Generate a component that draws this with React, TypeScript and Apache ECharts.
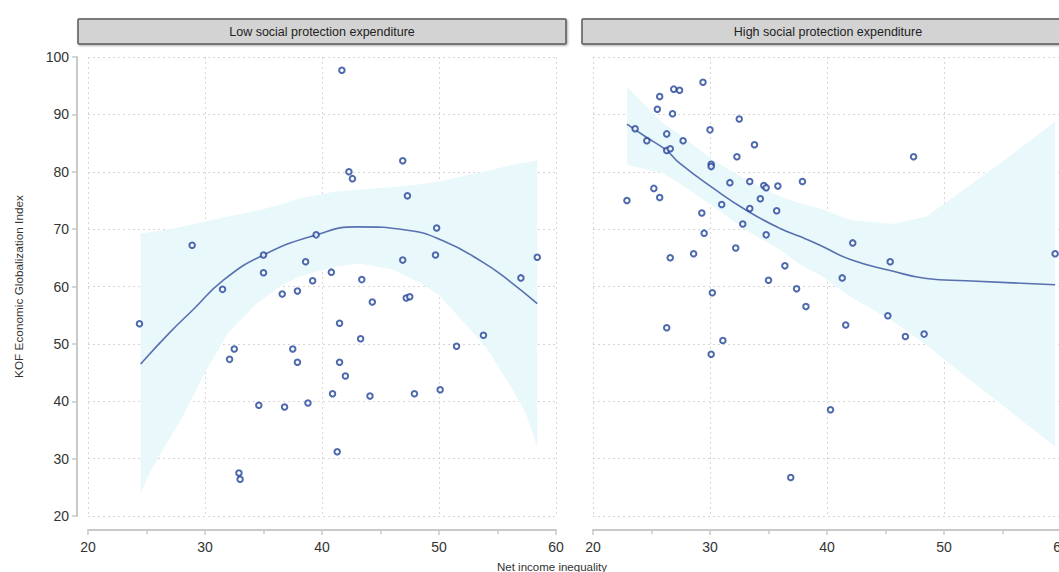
import React, { useEffect, useRef } from "react";
import * as echarts from "echarts";

// ---------- DATA ----------
const panelTitles = ["Low social protection expenditure", "High social protection expenditure"];
const xTitle = "Net income inequality";
const yTitle = "KOF Economic Globalization Index";

const lowPoints: [number, number][] = [
  [24.4, 53.5], [28.9, 67.2], [31.5, 59.5], [32.1, 47.3], [32.5, 49.1], [32.9, 27.5], [33.0, 26.4],
  [35.0, 65.5], [35.0, 62.4], [34.6, 39.3], [36.6, 58.7], [36.8, 39.0], [37.5, 49.1], [37.9, 59.2],
  [37.9, 46.8], [38.6, 64.3], [38.8, 39.7], [39.2, 61.0], [39.5, 69.0], [40.8, 62.5], [40.9, 41.3],
  [41.3, 31.2], [41.5, 53.6], [41.5, 46.8], [42.0, 44.4], [41.7, 97.7], [42.3, 80.0], [42.6, 78.8],
  [43.4, 61.2], [43.3, 50.9], [44.3, 57.3], [44.1, 40.9], [46.9, 81.9], [46.9, 64.6], [47.3, 75.8],
  [47.2, 58.0], [47.5, 58.2], [47.9, 41.3], [49.7, 65.5], [49.8, 70.2], [50.1, 42.0], [51.5, 49.6],
  [53.8, 51.5], [57.0, 61.5], [58.4, 65.1],
];

const highPoints: [number, number][] = [
  [22.9, 75.0], [23.6, 87.5], [24.6, 85.4], [25.2, 77.1], [25.5, 90.9], [25.7, 93.1], [25.7, 75.5],
  [26.3, 86.6], [26.3, 83.7], [26.6, 84.0], [26.8, 90.1], [26.9, 94.4], [27.4, 94.2], [26.6, 65.0],
  [26.3, 52.8], [27.7, 85.4], [28.6, 65.7], [29.3, 72.8], [29.4, 95.6], [29.5, 69.3], [30.0, 87.3],
  [30.1, 81.3], [30.1, 80.9], [30.2, 58.9], [30.1, 48.2], [31.0, 74.3], [31.1, 50.6], [31.7, 78.1],
  [32.2, 66.7], [32.3, 82.6], [32.5, 89.2], [32.8, 70.9], [33.4, 78.3], [33.4, 73.6], [33.8, 84.7],
  [34.3, 75.3], [34.6, 77.6], [34.8, 77.2], [34.8, 69.0], [35.0, 61.1], [35.7, 73.2], [35.8, 77.5],
  [36.4, 63.6], [36.9, 26.7], [37.4, 59.6], [37.9, 78.3], [38.2, 56.5], [40.3, 38.5], [41.3, 61.5],
  [41.6, 53.3], [42.2, 67.6], [45.2, 54.9], [45.4, 64.3], [46.7, 51.3], [47.4, 82.6], [48.3, 51.7],
  [59.5, 65.7],
];

// smoothed fits
const lowFitX = [24.5, 27, 29, 31.5, 35, 39.5, 43, 47.3, 50.3, 53.7, 56, 58.4];
const lowFitY = [46.5, 52, 56, 61, 65.5, 69, 70.4, 69.8, 68, 64.3, 61, 57];
const lowBandX = [24.5, 25.4, 26.4, 28, 30, 32, 34.4, 36.4, 38, 41, 43.2, 46, 48.4, 50, 52, 54, 56.3, 57.5, 58.4];
const lowBandLower = [24, 28, 31.5, 37, 45, 52, 57, 60, 61.7, 63.4, 64, 63, 60.6, 58.5, 54, 49.5, 42, 37.5, 32];
const lowBandUpper = [69.3, 69.5, 69.8, 70.4, 71.3, 72.2, 73.2, 74.2, 75.3, 76.5, 76.9, 77.3, 77.8, 78.3, 79.2, 80.1, 81.2, 81.6, 82];

const highFitX = [22.9, 24.5, 26.3, 27.4, 30.3, 33.1, 36.0, 37.7, 39.4, 42.0, 45.4, 48.5, 51.9, 59.5];
const highFitY = [88.3, 86.1, 83.7, 81.5, 77.1, 73.3, 70.1, 68.7, 67.2, 64.7, 62.8, 61.4, 61.0, 60.3];
const highBandX = [22.9, 26.0, 27.4, 30.3, 33.1, 36.0, 37.7, 39.4, 42.0, 45.6, 48.5, 50.5, 54.8, 59.5];
const highBandLower = [81.2, 79.7, 78.0, 73.9, 69.8, 66.4, 63.8, 62.0, 58.2, 54.0, 49.8, 46.5, 39.6, 32.1];
const highBandUpper = [94.8, 88.4, 86.5, 82.0, 78.6, 75.7, 74.5, 73.6, 71.6, 70.9, 72.2, 75.1, 81.5, 88.7];

const xTicks = { min: 20, max: 60, interval: 10 };
const yTicks = { min: 20, max: 100, interval: 10 };

// ---------- STYLE ----------
const POINT = "#22449a";
const FIT = "#5870b0";
const BAND = "#e9f8fa";
const AXIS = "#c9c9c9";
const GRIDLINE = "#d6d6d6";
const LABEL = "#333";
const FONT = "Liberation Sans";

function zip(xs: number[], ys: number[]) {
  return xs.map((x, i) => [x, ys[i]]);
}

export default function App() {
  const ref = useRef<HTMLDivElement>(null);
  useEffect(() => {
    if (!ref.current) return;
    const chart = echarts.init(ref.current, undefined, { renderer: "svg" });

    const grids = [
      { left: 88, width: 468, top: 57, bottom: 56 },
      { left: 593, width: 468, top: 57, bottom: 56 },
    ];

    const xAxes = [0, 1].map((i) => ({
      type: "value",
      gridIndex: i,
      min: xTicks.min,
      max: xTicks.max,
      interval: xTicks.interval,
      offset: 14,
      axisLine: { show: true, onZero: false, lineStyle: { color: AXIS, width: 2 } },
      axisTick: { show: true, length: 5, lineStyle: { color: AXIS, width: 1.5 } },
      minorTick: { show: true, splitNumber: 2, length: 4, lineStyle: { color: AXIS, width: 1.5 } },
      axisLabel: { color: LABEL, fontSize: 14, fontFamily: FONT, margin: 10 },
      splitLine: { show: true, lineStyle: { color: GRIDLINE, type: [2, 3], width: 1 } },
    }));

    const yAxes = [0, 1].map((i) => ({
      type: "value",
      gridIndex: i,
      min: yTicks.min,
      max: yTicks.max,
      interval: yTicks.interval,
      offset: 11,
      name: i === 0 ? yTitle : "",
      nameLocation: "middle",
      nameGap: 52,
      nameTextStyle: { color: LABEL, fontSize: 11.8, fontFamily: FONT },
      axisLine: { show: i === 0, lineStyle: { color: AXIS, width: 2 } },
      axisTick: { show: i === 0, length: 5, lineStyle: { color: AXIS, width: 1.5 } },
      axisLabel: { show: i === 0, color: LABEL, fontSize: 14, fontFamily: FONT, margin: 8 },
      splitLine: { show: true, lineStyle: { color: GRIDLINE, type: [2, 3], width: 1 } },
    }));

    const panels = [
      { pts: lowPoints, fx: lowFitX, fy: lowFitY, bx: lowBandX, bl: lowBandLower, bu: lowBandUpper },
      { pts: highPoints, fx: highFitX, fy: highFitY, bx: highBandX, bl: highBandLower, bu: highBandUpper },
    ];

    const series: any[] = [];
    panels.forEach((p, i) => {
      series.push({
        type: "custom",
        xAxisIndex: i,
        yAxisIndex: i,
        data: [0],
        silent: true,
        z: 1,
        renderItem: (_params: any, api: any) => {
          const up = p.bx.map((x, k) => api.coord([x, p.bu[k]]));
          const lo = p.bx.map((x, k) => api.coord([x, p.bl[k]])).reverse();
          return {
            type: "polygon",
            shape: { points: up.concat(lo) },
            style: { fill: BAND },
          };
        },
      });
      series.push({
        type: "line",
        xAxisIndex: i,
        yAxisIndex: i,
        data: zip(p.fx, p.fy),
        symbol: "none",
        smooth: 0.5,
        lineStyle: { color: FIT, width: 1.6 },
        z: 2,
      });
      series.push({
        type: "scatter",
        xAxisIndex: i,
        yAxisIndex: i,
        data: p.pts,
        symbol: "emptyCircle",
        symbolSize: 5.5,
        itemStyle: { color: POINT, borderColor: POINT, borderWidth: 2.2 },
        z: 3,
      });
    });

    const strips = [
      { x: 78, w: 488 },
      { x: 582, w: 500 },
    ];

    chart.setOption({
      animation: false,
      backgroundColor: "#fff",
      grid: grids,
      xAxis: xAxes,
      yAxis: yAxes,
      series,
      graphic: [
        ...strips.map((s, i) => ({
          type: "group",
          children: [
            {
              type: "rect",
              shape: { x: s.x, y: 19, width: s.w, height: 25, r: 1 },
              style: { fill: "#d3d3d3", stroke: "#5a5a5a", lineWidth: 1.5, shadowBlur: 2, shadowColor: "rgba(0,0,0,0.35)", shadowOffsetX: 1, shadowOffsetY: 1 },
            },
            {
              type: "text",
              x: i === 0 ? 322 : 828,
              y: 31.5,
              style: {
                text: panelTitles[i],
                fill: "#222",
                font: `12.5px "${FONT}"`,
                textAlign: "center",
                textVerticalAlign: "middle",
              },
            },
          ],
        })),
        {
          type: "text",
          x: 552,
          y: 567,
          style: {
            text: xTitle,
            fill: LABEL,
            font: `11.5px "${FONT}"`,
            textAlign: "center",
            textVerticalAlign: "middle",
          },
        },
      ],
    });
    return () => chart.dispose();
  }, []);

  return (
    <div style={{ position: "fixed", left: 0, top: 0, width: 1059, height: 572, overflow: "hidden", background: "#fff" }}>
      <div ref={ref} style={{ width: 1090, height: 572, background: "#fff" }} />
    </div>
  );
}
